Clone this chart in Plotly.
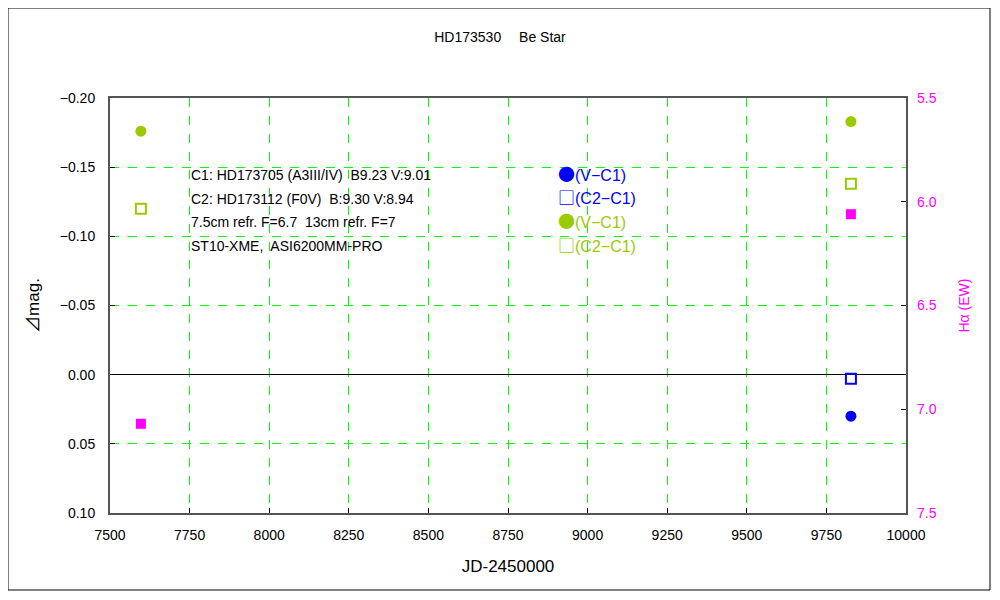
import plotly.graph_objects as go

# JD-2450000 of the two observing runs
jd = [7597, 9827]

# delta mag, instrument 1 (blue) only at the later run
v_c1_blue = [None, 0.030]
c2_c1_blue = [None, 0.003]
# instrument 2 (green)
v_c1_green = [-0.176, -0.183]
c2_c1_green = [-0.120, -0.138]
# H-alpha equivalent width
halpha_ew = [7.07, 6.06]

info_lines = [
    "C1: HD173705 (A3III/IV)  B9.23 V:9.01",
    "C2: HD173112 (F0V)  B:9.30 V:8.94",
    "7.5cm refr. F=6.7  13cm refr. F=7",
    "ST10-XME,  ASI6200MM-PRO",
]
legend_items = [
    ("●", "(V−C1)", "#0000ff"),
    ("□", "(C2−C1)", "#0000ff"),
    ("●", "(V−C1)", "#99cc00"),
    ("□", "(C2−C1)", "#99cc00"),
]

FONT = "Liberation Sans, Noto Sans CJK JP, sans-serif"
GRID = "#00ff00"

# page body has an 8px margin, so figure origin sits at (8, 8) on screen
W, H = 984, 584
L, R, T, B = 102, 86, 90, 79
PW, PH = W - L - R, H - T - B


def px(x):
    return (x - 8 - L) / PW


def py(y):
    return (H - B - (y - 8)) / PH


fig = go.Figure()
fig.add_trace(go.Scatter(x=jd, y=v_c1_blue, mode="markers",
                         marker=dict(symbol="circle", size=11, color="#0000ff")))
fig.add_trace(go.Scatter(x=jd, y=c2_c1_blue, mode="markers",
                         marker=dict(symbol="square-open", size=10, color="#0000ff",
                                     line=dict(width=2))))
fig.add_trace(go.Scatter(x=jd, y=v_c1_green, mode="markers",
                         marker=dict(symbol="circle", size=11, color="#99cc00")))
fig.add_trace(go.Scatter(x=jd, y=c2_c1_green, mode="markers",
                         marker=dict(symbol="square-open", size=10, color="#99cc00",
                                     line=dict(width=2))))
fig.add_trace(go.Scatter(x=jd, y=halpha_ew, mode="markers", yaxis="y2",
                         marker=dict(symbol="square", size=10, color="#ff00ff")))

annotations = []
for i, line in enumerate(info_lines):
    annotations.append(dict(
        x=px(189), y=py(175 + i * 23.7),
        xref="paper", yref="paper", xanchor="left", yanchor="middle",
        text=line, showarrow=False, font=dict(size=14, color="black")))
for i, (sym, txt, col) in enumerate(legend_items):
    annotations.append(dict(
        x=px(556), y=py(173 + i * 23.7),
        xref="paper", yref="paper", xanchor="left", yanchor="middle",
        text=f"<span style='font-family:Noto Sans CJK JP;font-size:17px'>{sym}</span>{txt}",
        showarrow=False, font=dict(size=16, color=col)))
annotations.append(dict(
    x=px(963), y=0.5, xref="paper", yref="paper", xanchor="center",
    text="Hα (EW)", textangle=-90, showarrow=False,
    font=dict(size=14, color="#ff00ff")))

fig.update_layout(
    width=W, height=H,
    margin=dict(l=L, r=R, t=T, b=B),
    paper_bgcolor="white", plot_bgcolor="white",
    showlegend=False,
    font=dict(family=FONT, size=14, color="black"),
    title=dict(text="HD173530　 Be Star", x=0.5, xanchor="center",
               y=(H - 29) / H, yanchor="middle", font=dict(size=14)),
    xaxis=dict(range=[7500, 10000], dtick=250, tick0=7500, tickformat="d",
               showgrid=True, gridcolor=GRID, griddash="dash", gridwidth=1,
               showline=True, linecolor="#555555", linewidth=2, mirror=True,
               ticks="inside", ticklen=5, tickcolor="black", ticklabelstandoff=8,
               zeroline=False, title=dict(text="JD-2450000", standoff=18)),
    yaxis=dict(range=[0.10, -0.20], dtick=0.05, tickformat=".2f",
               showgrid=True, gridcolor=GRID, griddash="dash", gridwidth=1,
               showline=True, linecolor="#555555", linewidth=2, mirror=True,
               ticks="inside", ticklen=5, tickcolor="black", ticklabelstandoff=10,
               zeroline=True, zerolinecolor="black", zerolinewidth=1,
               title=dict(text="⊿mag.", standoff=16)),
    yaxis2=dict(range=[7.5, 5.5], dtick=0.5, tickformat=".1f", overlaying="y",
                side="right", showgrid=False, zeroline=False,
                ticks="inside", ticklen=5, tickcolor="black", ticklabelstandoff=10,
                tickfont=dict(color="#ff00ff", size=14)),
    annotations=annotations,
    shapes=[dict(type="rect", xref="paper", yref="paper",
                 x0=px(8), x1=px(990), y0=py(590), y1=py(8),
                 line=dict(color="black", width=1))],
)

fig.write_html("out.html")
